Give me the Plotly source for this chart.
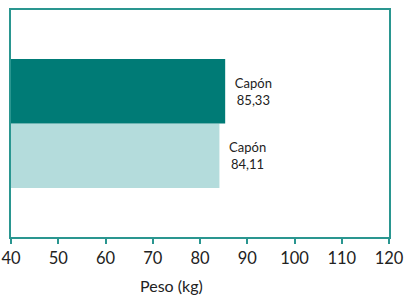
import plotly.graph_objects as go

categories = ["Capón"]
series_names = ["Serie A", "Serie B"]
values_a = [85.33]
values_b = [84.11]
tick_vals = [40, 50, 60, 70, 80, 90, 100, 110, 120]

PAD = "\u00a0\u00a0"

def lab(cat, v):
    return f"{PAD}{cat}<br>{PAD}{v:.2f}".replace(".", ",")

fig = go.Figure()
fig.add_trace(go.Bar(
    y=categories, x=[v - 40 for v in values_b], base=40, orientation="h",
    name=series_names[1],
    marker=dict(color="#b4dcdc", line=dict(width=0)),
    text=[lab(c, v) for c, v in zip(categories, values_b)],
    textposition="outside", cliponaxis=False,
    textfont=dict(family="Lato", size=13, color="#222222"),
))
fig.add_trace(go.Bar(
    y=categories, x=[v - 40 for v in values_a], base=40, orientation="h",
    name=series_names[0],
    marker=dict(color="#007b76", line=dict(width=0)),
    text=[lab(c, v) for c, v in zip(categories, values_a)],
    textposition="outside", cliponaxis=False,
    textfont=dict(family="Lato", size=13, color="#222222"),
))

L, R, T, B = 11, 16, 10, 58
W, H = 405, 295
fig.update_layout(
    width=W, height=H,
    margin=dict(l=L, r=R, t=T, b=B, autoexpand=False),
    paper_bgcolor="white", plot_bgcolor="white",
    barmode="group", bargap=0.432, bargroupgap=0,
    showlegend=False,
    font=dict(family="Lato", color="#222222"),
    xaxis=dict(
        range=[40, 120], tickvals=tick_vals, ticks="outside", ticklen=5,
        tickcolor="#2a9690", tickwidth=1.5, automargin=False,
        showline=True, linecolor="#2a9690", linewidth=1.5, mirror=True,
        showgrid=False, zeroline=False,
        tickfont=dict(family="Lato", size=16.5, color="#222222"),
    ),
    yaxis=dict(
        showticklabels=False, ticks="", showgrid=False, zeroline=False,
        automargin=False,
        showline=True, linecolor="#2a9690", linewidth=1.5, mirror=True,
    ),
    annotations=[dict(
        text="Peso (kg)", xref="paper", yref="paper",
        x=(171 - L) / (W - L - R), y=-(285 - (H - B)) / (H - B - T),
        xanchor="center", yanchor="middle",
        showarrow=False, font=dict(family="Lato", size=16, color="#222222"),
    )],
)
fig.write_html(
    "out.html",
    config={"displayModeBar": False},
    post_script="document.body.style.margin='0';document.body.style.overflow='hidden';",
)
